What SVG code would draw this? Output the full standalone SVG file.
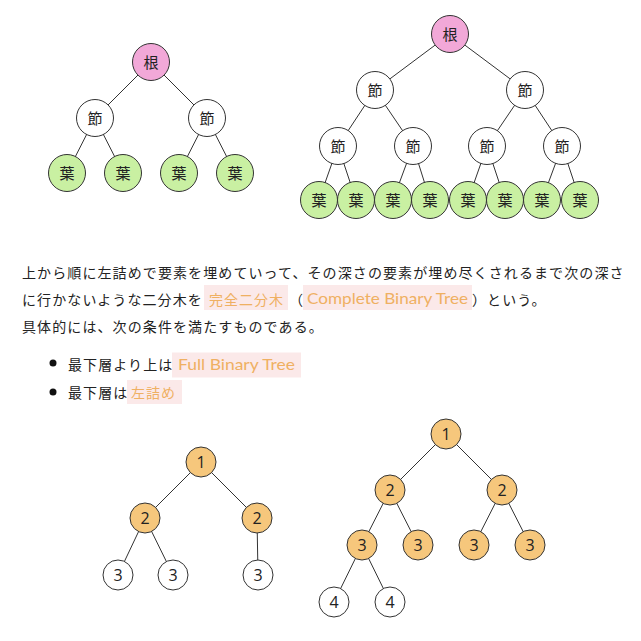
<svg xmlns="http://www.w3.org/2000/svg" width="641" height="641" viewBox="0 0 641 641">
<style>
.e line{stroke:#333;stroke-width:1}
.n circle{stroke:#333;stroke-width:1}
.root{fill:#f2a8d8}
.mid{fill:#ffffff}
.leaf{fill:#c9f0a2}
.org{fill:#f6c77c}
.wht{fill:#ffffff}
.lj{font-family:"Noto Sans CJK JP","Noto Sans",sans-serif;font-size:15px;fill:#222;text-anchor:middle}
.ln{font-family:"Open Sans","DejaVu Sans",sans-serif;font-size:16px;fill:#222;text-anchor:middle}
.t{font-family:"Noto Sans CJK JP","Noto Sans",sans-serif;font-size:14px;fill:#222;letter-spacing:1.1px}
.hl{fill:#fbe9e9}
.ht{font-family:"Noto Sans CJK JP",sans-serif;font-size:14px;fill:#efb062;letter-spacing:1px}
.hlat{font-family:Lato,"Open Sans",sans-serif;font-size:15px;fill:#efb062}
</style>

<g id="connectors" class="e">
  <line x1="151" y1="62" x2="95" y2="118"/>
  <line x1="151" y1="62" x2="207" y2="118"/>
  <line x1="95" y1="118" x2="67" y2="173"/>
  <line x1="95" y1="118" x2="123" y2="173"/>
  <line x1="207" y1="118" x2="179" y2="173"/>
  <line x1="207" y1="118" x2="235" y2="173"/>
  <line x1="450" y1="34" x2="375" y2="90"/>
  <line x1="450" y1="34" x2="525" y2="90"/>
  <line x1="375" y1="90" x2="338" y2="146"/>
  <line x1="375" y1="90" x2="413" y2="146"/>
  <line x1="525" y1="90" x2="487" y2="146"/>
  <line x1="525" y1="90" x2="562" y2="146"/>
  <line x1="338" y1="146" x2="319" y2="200"/>
  <line x1="338" y1="146" x2="356" y2="200"/>
  <line x1="413" y1="146" x2="393" y2="200"/>
  <line x1="413" y1="146" x2="430" y2="200"/>
  <line x1="487" y1="146" x2="468" y2="200"/>
  <line x1="487" y1="146" x2="505" y2="200"/>
  <line x1="562" y1="146" x2="542" y2="200"/>
  <line x1="562" y1="146" x2="580" y2="200"/>
  <line x1="201" y1="462" x2="145" y2="518"/>
  <line x1="201" y1="462" x2="257" y2="518"/>
  <line x1="145" y1="518" x2="118" y2="575"/>
  <line x1="145" y1="518" x2="173" y2="575"/>
  <line x1="257" y1="518" x2="258" y2="575"/>
  <line x1="446" y1="434" x2="390" y2="490"/>
  <line x1="446" y1="434" x2="502" y2="490"/>
  <line x1="390" y1="490" x2="362" y2="545"/>
  <line x1="390" y1="490" x2="418" y2="545"/>
  <line x1="502" y1="490" x2="474" y2="545"/>
  <line x1="502" y1="490" x2="530" y2="545"/>
  <line x1="362" y1="545" x2="334" y2="602"/>
  <line x1="362" y1="545" x2="390" y2="602"/>
</g>

<g id="tl-root" class="n"><circle class="root" cx="151" cy="62" r="18.5"/><text class="lj" x="151" y="67.5">根</text></g>
<g id="tl-n1" class="n"><circle class="mid" cx="95" cy="118" r="18.5"/><text class="lj" x="95" y="123.5">節</text></g>
<g id="tl-n2" class="n"><circle class="mid" cx="207" cy="118" r="18.5"/><text class="lj" x="207" y="123.5">節</text></g>
<g id="tl-l1" class="n"><circle class="leaf" cx="67" cy="173" r="18.5"/><text class="lj" x="67" y="178.5">葉</text></g>
<g id="tl-l2" class="n"><circle class="leaf" cx="123" cy="173" r="18.5"/><text class="lj" x="123" y="178.5">葉</text></g>
<g id="tl-l3" class="n"><circle class="leaf" cx="179" cy="173" r="18.5"/><text class="lj" x="179" y="178.5">葉</text></g>
<g id="tl-l4" class="n"><circle class="leaf" cx="235" cy="173" r="18.5"/><text class="lj" x="235" y="178.5">葉</text></g>

<g id="tr-root" class="n"><circle class="root" cx="450" cy="34" r="18.5"/><text class="lj" x="450" y="39.5">根</text></g>
<g id="tr-n1" class="n"><circle class="mid" cx="375" cy="90" r="18.5"/><text class="lj" x="375" y="95.5">節</text></g>
<g id="tr-n2" class="n"><circle class="mid" cx="525" cy="90" r="18.5"/><text class="lj" x="525" y="95.5">節</text></g>
<g id="tr-n3" class="n"><circle class="mid" cx="338" cy="146" r="18.5"/><text class="lj" x="338" y="151.5">節</text></g>
<g id="tr-n4" class="n"><circle class="mid" cx="413" cy="146" r="18.5"/><text class="lj" x="413" y="151.5">節</text></g>
<g id="tr-n5" class="n"><circle class="mid" cx="487" cy="146" r="18.5"/><text class="lj" x="487" y="151.5">節</text></g>
<g id="tr-n6" class="n"><circle class="mid" cx="562" cy="146" r="18.5"/><text class="lj" x="562" y="151.5">節</text></g>
<g id="tr-l1" class="n"><circle class="leaf" cx="319" cy="200" r="18.5"/><text class="lj" x="319" y="205.5">葉</text></g>
<g id="tr-l2" class="n"><circle class="leaf" cx="356" cy="200" r="18.5"/><text class="lj" x="356" y="205.5">葉</text></g>
<g id="tr-l3" class="n"><circle class="leaf" cx="393" cy="200" r="18.5"/><text class="lj" x="393" y="205.5">葉</text></g>
<g id="tr-l4" class="n"><circle class="leaf" cx="430" cy="200" r="18.5"/><text class="lj" x="430" y="205.5">葉</text></g>
<g id="tr-l5" class="n"><circle class="leaf" cx="468" cy="200" r="18.5"/><text class="lj" x="468" y="205.5">葉</text></g>
<g id="tr-l6" class="n"><circle class="leaf" cx="505" cy="200" r="18.5"/><text class="lj" x="505" y="205.5">葉</text></g>
<g id="tr-l7" class="n"><circle class="leaf" cx="542" cy="200" r="18.5"/><text class="lj" x="542" y="205.5">葉</text></g>
<g id="tr-l8" class="n"><circle class="leaf" cx="580" cy="200" r="18.5"/><text class="lj" x="580" y="205.5">葉</text></g>

<g id="text">
  <text class="t" x="22" y="278">上から順に左詰めで要素を埋めていって、その深さの要素が埋め尽くされるまで次の深さ</text>
  <text class="t" x="22" y="305">に行かないような二分木を</text>
  <rect class="hl" x="204" y="285" width="84" height="25"/>
  <text class="ht" x="209" y="305">完全二分木</text>
  <text class="t" x="289" y="305">（</text>
  <rect class="hl" x="303" y="285" width="169" height="25"/>
  <text class="hlat" x="307" y="304" textLength="161" lengthAdjust="spacingAndGlyphs">Complete Binary Tree</text>
  <text class="t" x="472" y="305">）という。</text>
  <text class="t" x="22" y="332">具体的には、次の条件を満たすものである。</text>

  <circle cx="53" cy="363" r="3.5" fill="#111"/>
  <text class="t" x="68" y="370">最下層より上は</text>
  <rect class="hl" x="172" y="352.5" width="129" height="25"/>
  <text class="hlat" x="178" y="370" textLength="117" lengthAdjust="spacingAndGlyphs">Full Binary Tree</text>

  <circle cx="53" cy="392" r="3.5" fill="#111"/>
  <text class="t" x="68" y="398">最下層は</text>
  <rect class="hl" x="127" y="380" width="55" height="24"/>
  <text class="ht" x="131" y="398" letter-spacing="2">左詰め</text>
</g>

<g id="bl-1" class="n"><circle class="org" cx="201" cy="462" r="15"/><text class="ln" x="201" y="468">1</text></g>
<g id="bl-2a" class="n"><circle class="org" cx="145" cy="518" r="15"/><text class="ln" x="145" y="524">2</text></g>
<g id="bl-2b" class="n"><circle class="org" cx="257" cy="518" r="15"/><text class="ln" x="257" y="524">2</text></g>
<g id="bl-3a" class="n"><circle class="wht" cx="118" cy="575" r="15"/><text class="ln" x="118" y="581">3</text></g>
<g id="bl-3b" class="n"><circle class="wht" cx="173" cy="575" r="15"/><text class="ln" x="173" y="581">3</text></g>
<g id="bl-3c" class="n"><circle class="wht" cx="258" cy="575" r="15"/><text class="ln" x="258" y="581">3</text></g>

<g id="br-1" class="n"><circle class="org" cx="446" cy="434" r="15"/><text class="ln" x="446" y="440">1</text></g>
<g id="br-2a" class="n"><circle class="org" cx="390" cy="490" r="15"/><text class="ln" x="390" y="496">2</text></g>
<g id="br-2b" class="n"><circle class="org" cx="502" cy="490" r="15"/><text class="ln" x="502" y="496">2</text></g>
<g id="br-3a" class="n"><circle class="org" cx="362" cy="545" r="15"/><text class="ln" x="362" y="551">3</text></g>
<g id="br-3b" class="n"><circle class="org" cx="418" cy="545" r="15"/><text class="ln" x="418" y="551">3</text></g>
<g id="br-3c" class="n"><circle class="org" cx="474" cy="545" r="15"/><text class="ln" x="474" y="551">3</text></g>
<g id="br-3d" class="n"><circle class="org" cx="530" cy="545" r="15"/><text class="ln" x="530" y="551">3</text></g>
<g id="br-4a" class="n"><circle class="wht" cx="334" cy="602" r="15"/><text class="ln" x="334" y="608">4</text></g>
<g id="br-4b" class="n"><circle class="wht" cx="390" cy="602" r="15"/><text class="ln" x="390" y="608">4</text></g>
</svg>
